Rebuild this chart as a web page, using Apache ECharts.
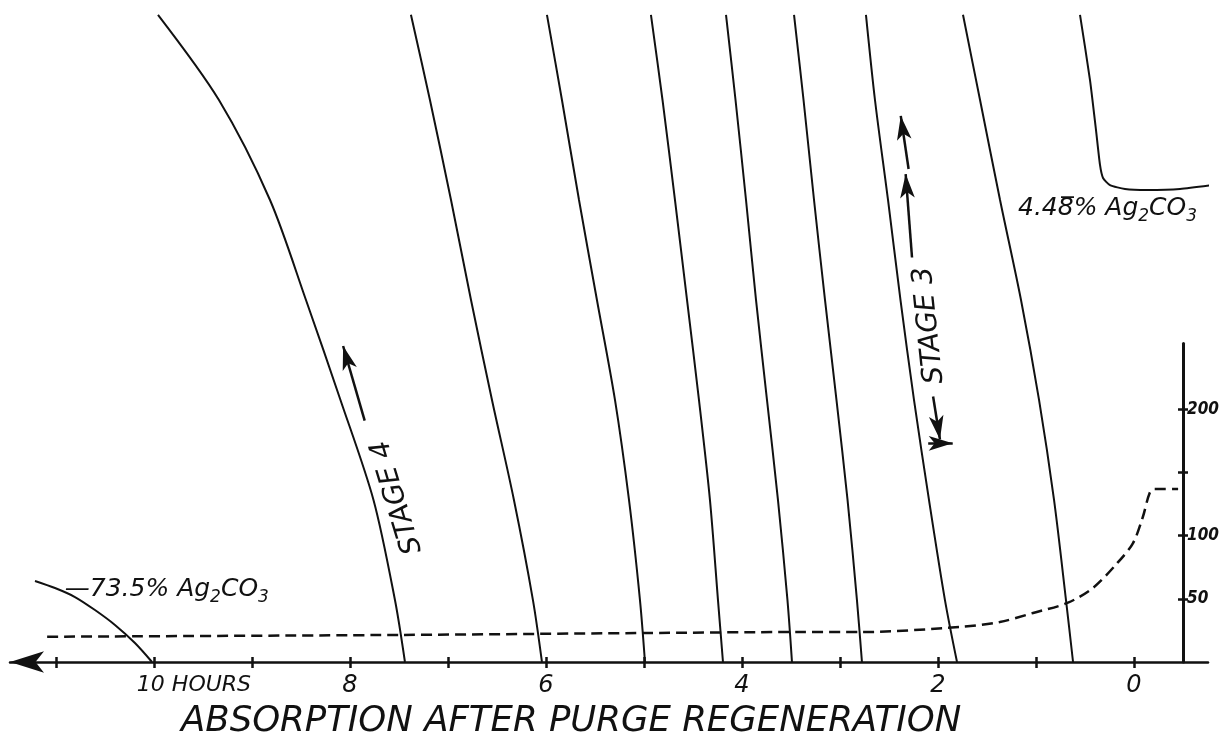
<!DOCTYPE html>
<html>
<head>
<meta charset="utf-8">
<title>Absorption after purge regeneration</title>
<script src="https://cdn.jsdelivr.net/npm/echarts@6/dist/echarts.min.js"></script>
<style>
  html, body { margin: 0; padding: 0; background: #fff; }
  #chart { width: 1229px; height: 752px; }
</style>
</head>
<body>
<div id="chart"></div>
<script>
// x: hours (axis runs right to left, 0 at the right), y: scale of the right-hand axis
const hourTicks = [0, 1, 2, 3, 4, 5, 6, 7, 8, 9, 10, 11]
const hourLabels = [0, 2, 4, 6, 8, 10]
const scaleTicks = [50, 100, 150, 200]
const scaleLabels = [50, 100, 200]

// solid curves, [hours, value]
const curve735 = [[11.214, 64.1], [11.010, 58.5], [10.806, 51.4], [10.602, 41.1], [10.398, 29.3], [10.194, 15.0], [10.020, 0]]
const curveStage4 = [[9.959, 512], [9.337, 444.6], [8.816, 365.5], [8.449, 286.4], [8.097, 207.3], [7.760, 128.2], [7.541, 49], [7.439, 0]]
const curve2 = [[7.378, 512], [7.184, 444.6], [6.969, 365.5], [6.765, 286.4], [6.551, 207.3], [6.327, 128.2], [6.133, 49], [6.041, 0]]
const curve3 = [[5.990, 512], [5.837, 444.6], [5.663, 365.5], [5.480, 286.4], [5.296, 207.3], [5.153, 128.2], [5.041, 49], [4.990, 0]]
const curve4 = [[4.929, 512], [4.811, 444.6], [4.684, 365.5], [4.561, 286.4], [4.439, 207.3], [4.327, 128.2], [4.245, 49], [4.194, 0]]
const curve5 = [[4.163, 512], [4.066, 444.6], [3.959, 365.5], [3.857, 286.4], [3.745, 207.3], [3.633, 128.2], [3.536, 49], [3.490, 0]]
const curve6 = [[3.469, 512], [3.372, 444.6], [3.265, 365.5], [3.153, 286.4], [3.036, 207.3], [2.923, 128.2], [2.827, 49], [2.776, 0]]
const curveStage3 = [[2.735, 512], [2.643, 444.6], [2.510, 365.5], [2.383, 286.4], [2.245, 207.3], [2.092, 128.2], [1.929, 49], [1.806, 0]]
const curve8 = [[1.745, 512], [1.571, 444.6], [1.367, 365.5], [1.153, 286.4], [0.969, 207.3], [0.816, 128.2], [0.694, 49], [0.622, 0]]
const curve448 = [[0.551, 512], [0.449, 460.4], [0.388, 420.9], [0.347, 393.2], [0.316, 382.9], [0.245, 377.3],
  [0.092, 374.2], [-0.133, 373.4], [-0.469, 374.2], [-0.878, 378.1]]

// dashed curve
const dashedCurve = [[11.09, 20], [7.49, 21.4], [5.04, 22.9], [3.41, 23.7], [2.78, 23.7], [1.78, 27.7], [1.37, 31.6],
  [1.03, 38.8], [0.68, 46.7], [0.42, 58.5], [0.17, 78.3], [0.01, 94.1], [-0.09, 114.7], [-0.16, 133.7], [-0.21, 136.9], [-0.45, 136.9]]

// annotations, in data coordinates
const stage4Arrow = [[7.85, 191], [8.07, 250]]
const stage3ArrowA = [[2.265, 320], [2.33, 386]]
const stage3ArrowB = [[2.30, 390], [2.38, 432]]
const stage3Down = [[2.05, 210], [1.98, 176]]
const stage3Bar = [[2.10, 173], [1.85, 173]]

const FONT = 'DejaVu Sans'
const INK = '#111'

const chart = echarts.init(document.getElementById('chart'))

const lineSeries = (data, extra) => Object.assign({
  type: 'line',
  xAxisIndex: 0,
  yAxisIndex: 0,
  data: data,
  showSymbol: false,
  smooth: 0.3,
  silent: true,
  lineStyle: { color: INK, width: 2 },
  z: 3
}, extra || {})

const arrowLine = (pts) => [{ coord: pts[0] }, { coord: pts[1] }]

const textPoint = (coord, text, rotate, align, size) => ({
  coord: coord,
  symbolSize: 1,
  itemStyle: { color: 'transparent' },
  label: {
    show: true,
    position: 'inside',
    formatter: text,
    rotate: rotate || 0,
    align: align || 'center',
    verticalAlign: 'middle',
    color: INK,
    fontFamily: FONT,
    fontStyle: 'italic',
    fontSize: size || 26,
    rich: {
      t: { fontFamily: FONT, fontStyle: 'italic', fontSize: 25, color: INK },
      s: { fontFamily: FONT, fontStyle: 'italic', fontSize: 17, color: INK, padding: [16, 0, 0, 0] }
    }
  }
})

const arrowMarks = (pairs) => ({
  silent: true,
  symbol: ['none', 'arrow'],
  symbolSize: [11, 24],
  label: { show: false },
  lineStyle: { color: INK, width: 2.5, type: 'solid' },
  data: pairs
})

const option = {
  animation: false,
  backgroundColor: '#fff',
  title: {
    text: 'ABSORPTION AFTER PURGE REGENERATION',
    left: 176,
    top: 699,
    textStyle: { fontFamily: FONT, fontStyle: 'italic', fontWeight: 'normal', fontSize: 35.5, color: INK }
  },
  grid: [
    { left: 10, right: 21, top: 14.8, bottom: 90 },
    { left: 10, right: 21, top: 343.4, bottom: 90 }
  ],
  xAxis: [
    {
      gridIndex: 0,
      type: 'value',
      inverse: true,
      min: -0.755,
      max: 11.469,
      splitLine: { show: false },
      axisLine: {
        onZero: false,
        lineStyle: { color: INK, width: 2.5 },
        symbol: ['arrow', 'none'],
        symbolSize: [16, 34]
      },
      axisTick: { customValues: hourTicks, length: 6, lineStyle: { color: INK, width: 2.5 } },
      axisLabel: {
        customValues: hourLabels,
        margin: 12,
        color: INK,
        fontFamily: FONT,
        fontStyle: 'italic',
        fontSize: 24,
        formatter: (v) => v === 10 ? '{h|10 HOURS}' : String(v),
        rich: {
          h: { fontFamily: FONT, fontStyle: 'italic', fontSize: 22, color: INK, padding: [0, 0, 0, 80] }
        }
      }
    },
    {
      gridIndex: 1,
      type: 'value',
      inverse: true,
      min: -0.755,
      max: 11.469,
      splitLine: { show: false },
      axisLine: { show: false, onZero: false },
      axisTick: { customValues: hourTicks, inside: true, length: 5, lineStyle: { color: INK, width: 2.5 } },
      axisLabel: { show: false }
    }
  ],
  yAxis: [
    {
      gridIndex: 0,
      type: 'value',
      position: 'right',
      offset: -25,
      min: 0,
      max: 512,
      splitLine: { show: false },
      axisLine: { show: false, onZero: false },
      axisTick: { customValues: scaleTicks, inside: true, length: 5, lineStyle: { color: INK, width: 2.5 } },
      axisLabel: { show: false }
    },
    {
      gridIndex: 1,
      type: 'value',
      position: 'right',
      offset: -25,
      min: 0,
      max: 252,
      splitLine: { show: false },
      axisLine: { onZero: false, lineStyle: { color: INK, width: 3 } },
      axisTick: { customValues: scaleTicks, length: 5, lineStyle: { color: INK, width: 2.5 } },
      axisLabel: {
        customValues: scaleLabels,
        margin: 4,
        color: INK,
        fontFamily: 'DejaVu Sans Condensed',
        fontStyle: 'italic',
        fontWeight: 'bold',
        fontSize: 17
      }
    }
  ],
  series: [
    lineSeries(curve735, {
      markPoint: {
        silent: true,
        data: [textPoint([10.91, 57], '{t|\u201473.5% Ag}{s|2}{t|CO}{s|3}', 0, 'left')]
      }
    }),
    lineSeries(curveStage4, {
      markPoint: {
        silent: true,
        data: [textPoint([7.52, 130], 'STAGE 4', 107, 'center', 28)]
      },
      markLine: arrowMarks([arrowLine(stage4Arrow)])
    }),
    lineSeries(curve2),
    lineSeries(curve3),
    lineSeries(curve4),
    lineSeries(curve5),
    lineSeries(curve6),
    lineSeries(curveStage3, {
      markPoint: {
        silent: true,
        data: [textPoint([2.09, 266], 'STAGE 3', 96, 'center', 28)]
      },
      markLine: arrowMarks([arrowLine(stage3ArrowA), arrowLine(stage3ArrowB), arrowLine(stage3Down),
        Object.assign(arrowLine(stage3Bar), { symbol: 'none' })])
    }),
    lineSeries(curve8),
    lineSeries(curve448, {
      clip: false,
      smooth: 0.2,
      markPoint: {
        silent: true,
        data: [textPoint([1.184, 358], '{t|4.48\u0305% Ag}{s|2}{t|CO}{s|3}', 0, 'left')]
      }
    }),
    lineSeries(dashedCurve, {
      smooth: 0.3,
      lineStyle: { color: INK, width: 2.5, type: [11, 6] }
    })
  ]
}

chart.setOption(option)
</script>
</body>
</html>
